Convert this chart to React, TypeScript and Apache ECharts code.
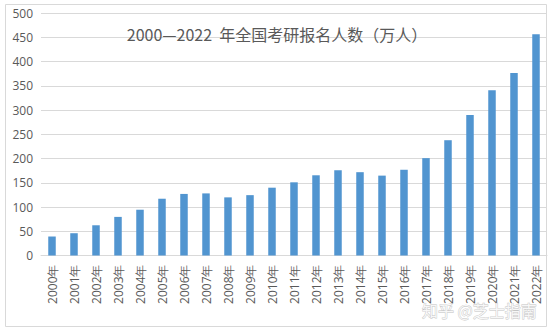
import React, { useEffect, useRef } from "react";
import * as echarts from "echarts";

const categories = [
  "2000年", "2001年", "2002年", "2003年", "2004年", "2005年", "2006年", "2007年",
  "2008年", "2009年", "2010年", "2011年", "2012年", "2013年", "2014年", "2015年",
  "2016年", "2017年", "2018年", "2019年", "2020年", "2021年", "2022年",
];
const applicants = [
  39.2, 46, 62.4, 79.7, 94.5, 117.2, 127.1, 128.2, 120, 124.6, 140, 151.1,
  165.6, 176, 172, 164.9, 177, 201, 238, 290, 341, 377, 457,
];
const titleText = "2000—2022  年全国考研报名人数（万人）";
const watermark = "知乎 @芝士指南";

export default function App() {
  const ref = useRef<HTMLDivElement>(null);
  useEffect(() => {
    if (!ref.current) return;
    document.body.style.margin = "0";
    const chart = echarts.init(ref.current, undefined, { renderer: "svg" });
    chart.setOption({
      animation: false,
      backgroundColor: "#ffffff",
      title: {
        text: titleText,
        left: 272,
        textAlign: "center",
        top: 21,
        textStyle: {
          fontFamily: "'Noto Sans CJK SC', sans-serif",
          fontSize: 16,
          fontWeight: "normal",
          color: "#595959",
        },
      },
      grid: { left: 41, right: 8, top: 13.3, bottom: 76.5 },
      xAxis: {
        type: "category",
        data: categories,
        axisTick: { show: false },
        axisLine: { lineStyle: { color: "#d9d9d9" } },
        axisLabel: {
          rotate: 90,
          interval: 0,
          margin: 9,
          color: "#595959",
          fontSize: 12,
          fontFamily: "'Open Sans', sans-serif",
        },
      },
      yAxis: {
        type: "value",
        min: 0,
        max: 500,
        interval: 50,
        axisLine: { show: false },
        axisTick: { show: false },
        splitLine: { lineStyle: { color: "#d9d9d9" } },
        axisLabel: {
          color: "#595959",
          fontSize: 12,
          margin: 8,
          fontFamily: "'Open Sans', sans-serif",
        },
      },
      series: [
        {
          type: "bar",
          data: applicants,
          barWidth: 7.5,
          itemStyle: { color: "#5195d0" },
        },
      ],
      graphic: [
        {
          type: "rect",
          shape: { x: 5.5, y: 4.5, width: 541, height: 322 },
          style: { fill: "none", stroke: "#d9d9d9", lineWidth: 1 },
          silent: true,
          z: 100,
        },
        {
          type: "text",
          x: 422,
          y: 302,
          z: 100,
          style: {
            text: watermark,
            fontSize: 16,
            fontFamily: "'Noto Sans CJK SC', sans-serif",
            fill: "rgba(255,255,255,0.85)",
            stroke: "#c4c4c4",
            lineWidth: 0.8,
          },
        },
      ],
    });
    return () => chart.dispose();
  }, []);
  return <div ref={ref} style={{ width: 555, height: 332 }} />;
}
